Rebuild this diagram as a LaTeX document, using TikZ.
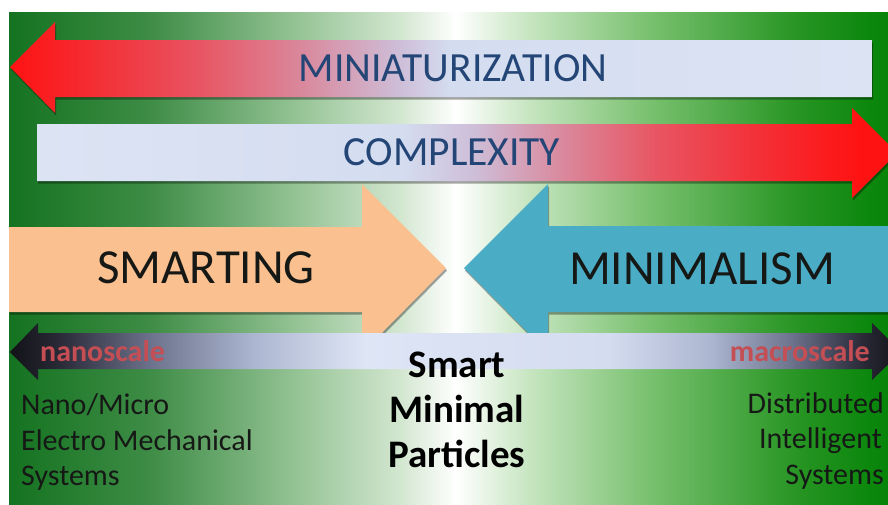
\documentclass[tikz,border=0pt]{standalone}
\usepackage{fontspec}
\setmainfont{Carlito}
\usetikzlibrary{shadows}

% colour stops: shadings are stretched so that 25bp..75bp spans the shaded path
\definecolor{bgL}{RGB}{20,115,32}
\definecolor{bgL2}{RGB}{62,140,70}
\definecolor{bgL3}{RGB}{150,196,150}
\definecolor{bgL4}{RGB}{210,230,207}
\definecolor{bgR4}{RGB}{198,229,192}
\definecolor{bgR3}{RGB}{120,192,110}
\definecolor{bgR2}{RGB}{38,148,34}
\definecolor{bgR}{RGB}{5,132,8}
\pgfdeclarehorizontalshading{bgshade}{100bp}{%
  color(0bp)=(bgL); color(25bp)=(bgL); color(33bp)=(bgL2); color(41.5bp)=(bgL3);
  color(47.2bp)=(bgL4); color(50.4bp)=(white); color(54.6bp)=(bgR4);
  color(61.5bp)=(bgR3); color(70bp)=(bgR2); color(75bp)=(bgR); color(100bp)=(bgR)}

\definecolor{arRed}{RGB}{255,18,18}
\definecolor{arRed2}{RGB}{243,48,55}
\definecolor{arPink}{RGB}{232,85,98}
\definecolor{arRose}{RGB}{218,135,155}
\definecolor{arMauve}{RGB}{206,190,216}
\definecolor{arLav}{RGB}{212,220,240}
\definecolor{arLav2}{RGB}{220,228,244}
\pgfdeclarehorizontalshading{minishade}{100bp}{%
  color(0bp)=(arRed); color(25bp)=(arRed); color(30.2bp)=(arRed2); color(36bp)=(arPink);
  color(41.8bp)=(arRose); color(47.6bp)=(arMauve); color(50.5bp)=(arLav);
  color(75bp)=(arLav2); color(100bp)=(arLav2)}
\pgfdeclarehorizontalshading{complshade}{100bp}{%
  color(0bp)=(arLav2); color(25bp)=(arLav2); color(46.3bp)=(arLav); color(50.4bp)=(arMauve);
  color(55.7bp)=(arRose); color(61bp)=(arPink); color(66.9bp)=(arRed2);
  color(72.8bp)=(arRed); color(75bp)=(arRed); color(100bp)=(arRed)}

\definecolor{scBlack}{RGB}{18,18,24}
\definecolor{scDark}{RGB}{42,42,56}
\definecolor{scGrey}{RGB}{110,116,142}
\definecolor{scBlue}{RGB}{172,182,208}
\definecolor{scLav}{RGB}{222,229,245}
\pgfdeclarehorizontalshading{scaleshade}{100bp}{%
  color(0bp)=(scBlack); color(25bp)=(scBlack); color(27.8bp)=(scDark); color(33bp)=(scGrey);
  color(38.7bp)=(scBlue); color(44.9bp)=(scLav); color(58.6bp)=(arLav);
  color(64.3bp)=(scBlue); color(68.8bp)=(scGrey); color(72.8bp)=(scDark);
  color(75bp)=(scBlack); color(100bp)=(scBlack)}

\definecolor{peach}{RGB}{250,192,143}
\definecolor{aqua}{RGB}{75,172,198}
\definecolor{titleBlue}{RGB}{36,70,118}
\definecolor{scaleRed}{RGB}{196,78,84}
\definecolor{inkDark}{RGB}{22,24,22}

\tikzset{
  arrowshadow/.style={drop shadow={shadow xshift=1pt, shadow yshift=-2.5pt, opacity=0.35, fill=black}},
  titletext/.style={font=\fontsize{41.5}{46}\selectfont, text=titleBlue, inner sep=0pt},
  bigtext/.style={font=\fontsize{49}{54}\selectfont, text=inkDark, inner sep=0pt},
  scaletext/.style={font=\fontsize{30}{34}\selectfont\bfseries, text=scaleRed, inner sep=0pt},
  sidetext/.style={font=\fontsize{30}{34}\selectfont, text=inkDark, inner sep=0pt},
  centertext/.style={font=\fontsize{39}{43}\selectfont\bfseries, text=black, inner sep=0pt},
}

\begin{document}
\begin{tikzpicture}[x=1pt,y=-1pt]
\useasboundingbox (0,0) rectangle (888,504);
\clip (0,0) rectangle (888,504);
\fill[white] (0,0) rectangle (888,504);

% green backdrop, darkest at both sides, white in the middle
\shade[shading=bgshade] (9,12) rectangle (888,504);

% MINIATURIZATION: arrow pointing left
\shade[shading=minishade, arrowshadow]
  (10,67) -- (55,22) -- (55,40) -- (872,40) -- (872,97) -- (55,97) -- (55,113) -- cycle;
\node[titletext] (mini) at (453,68) {MINIATURIZATION};

% COMPLEXITY: arrow pointing right
\shade[shading=complshade, arrowshadow]
  (37,124) -- (852,124) -- (852,108) -- (897,153) -- (852,198) -- (852,181) -- (37,181) -- cycle;
\node[titletext] (compl) at (452,152) {COMPLEXITY};

% SMARTING and MINIMALISM meet in the middle
\fill[peach, arrowshadow]
  (9,227) -- (362,227) -- (362,184) -- (446,268) -- (362,353) -- (362,312) -- (9,312) -- cycle;
\fill[aqua, arrowshadow]
  (888,226) -- (548,226) -- (548,184) -- (464,268) -- (548,353) -- (548,312) -- (888,312) -- cycle;
\node[bigtext] (smarting) at (206,268) {SMARTING};
\node[bigtext] (minimalism) at (702,269) {MINIMALISM};

% scale band with heads at both ends
\shade[shading=scaleshade]
  (10,352) -- (38,323) -- (38,333) -- (872,333) -- (872,323) -- (901,352)
  -- (872,380) -- (872,369) -- (38,369) -- (38,380) -- cycle;
\node[scaletext, anchor=west] (nano) at (40,351) {nanoscale};
\node[scaletext, anchor=east] (macro) at (870,351) {macroscale};

% side labels
\node[sidetext, anchor=base west] (l1) at (21,414) {Nano/Micro};
\node[sidetext, anchor=base west] (l2) at (21,450) {Electro Mechanical};
\node[sidetext, anchor=base west] (l3) at (21,485) {Systems};
\node[sidetext, anchor=base east] (r1) at (884,413) {Distributed};
\node[sidetext, anchor=base east] (r2) at (882,448) {Intelligent};
\node[sidetext, anchor=base east] (r3) at (884,484) {Systems};

% centre label
\node[centertext, anchor=base] (c1) at (457,377) {Smart};
\node[centertext, anchor=base] (c2) at (457,422) {Minimal};
\node[centertext, anchor=base] (c3) at (457,467) {Particles};
\end{tikzpicture}
\end{document}
